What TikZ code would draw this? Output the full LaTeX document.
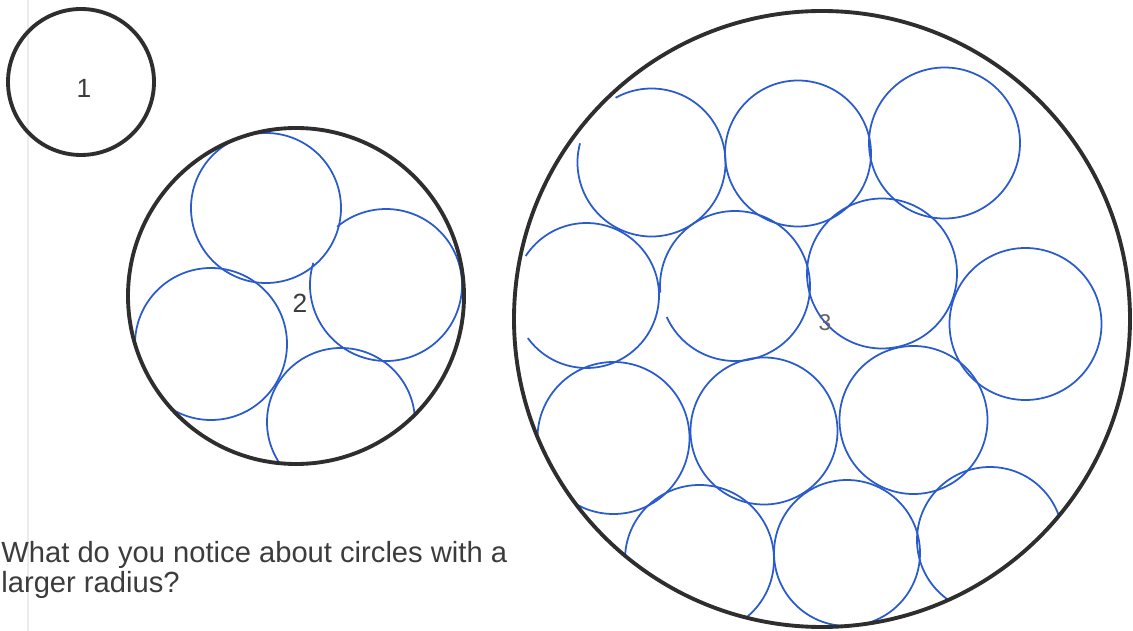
\documentclass[tikz,border=0pt]{standalone}
\usepackage{fontspec}
\setmainfont{Liberation Sans}
\definecolor{ink}{HTML}{2E2E2E}
\definecolor{pen}{HTML}{2A5BCC}
\definecolor{print}{HTML}{3C3C3C}
\tikzset{
    outline/.style={ink, line width=2.2pt},
    tracing/.style={pen, line width=1pt},
    numlabel/.style={print, font=\fontsize{15}{18}\selectfont},
    prompt/.style={print, font=\fontsize{16.6}{20}\selectfont, anchor=base west, inner sep=0pt},
}
\begin{document}
\begin{tikzpicture}[x=0.02cm, y=0.02cm]
    \useasboundingbox (0,0) rectangle (1133,-631);
    \clip (0,0) rectangle (1133,-631);
    \draw[black!8, line width=0.6pt] (28,0) -- (28,-631);
    % circle 1
    \draw[outline] (81,-82) circle[radius=73];
    \node[numlabel] (one) at (84,-88) {1};
    % circle 2
    \begin{scope}
        \clip (296,-296) circle[radius=168];
        \draw[tracing] (266,-208) circle[radius=75];
        \draw[tracing] (211,-344) circle[radius=76];
        \draw[tracing] (386,-285) ++(163:76) arc[start angle=163, end angle=490, radius=76];
        \draw[tracing] (341,-422) circle[radius=74];
    \end{scope}
    \draw[outline] (296,-296) circle[radius=168];
    \node[numlabel] (two) at (300,-303) {2};
    % circle 3
    \begin{scope}
        \clip (822,-319) circle[radius=308];
        \draw[tracing] (651.5,-162.5) ++(165:74) arc[start angle=165, end angle=479, radius=74];
        \draw[tracing] (798,-153.5) circle[radius=73];
        \draw[tracing] (944.5,-143) circle[radius=75.5];
        \draw[tracing] (586.5,-295.5) ++(-144:72.5) arc[start angle=-144, end angle=147, radius=72.5];
        \draw[tracing] (735,-286) ++(204.5:75) arc[start angle=204.5, end angle=545, radius=75];
        \draw[tracing] (882,-273.5) circle[radius=75];
        \draw[tracing] (1025.5,-324) circle[radius=76];
        \draw[tracing] (613.5,-438) circle[radius=76];
        \draw[tracing] (764,-431) circle[radius=73.5];
        \draw[tracing] (913.5,-420) circle[radius=74];
        \draw[tracing] (699.5,-559.5) circle[radius=74.5];
        \draw[tracing] (847,-553) circle[radius=73];
        \draw[tracing] (990,-540) circle[radius=73];
    \end{scope}
    \draw[outline] (822,-319) circle[radius=308];
    \node[numlabel, font=\fontsize{13}{15}\selectfont, print!80] (three) at (825,-323) {3};
    % question
    \node[prompt] (ask) at (1,-562) {What do you notice about circles with a};
    \node[prompt] (askmore) at (1,-592) {larger radius?};
\end{tikzpicture}
\end{document}
